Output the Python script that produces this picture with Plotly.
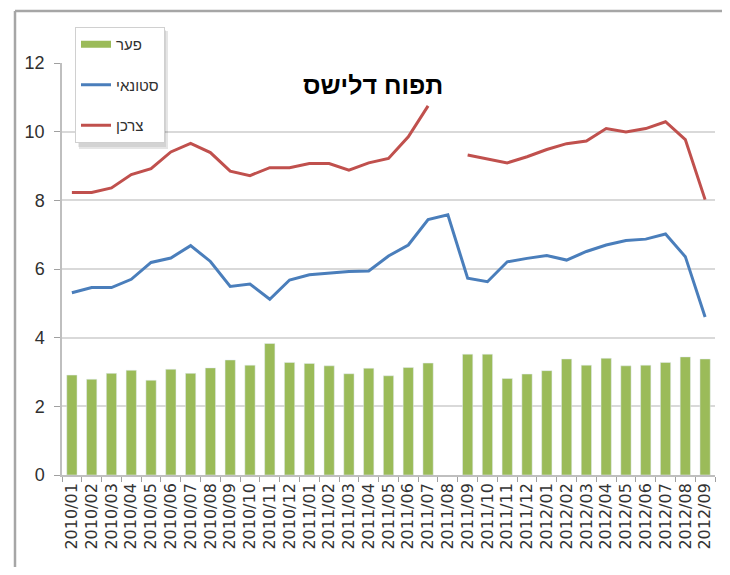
import plotly.graph_objects as go

months = ["2010/01", "2010/02", "2010/03", "2010/04", "2010/05", "2010/06", "2010/07",
          "2010/08", "2010/09", "2010/10", "2010/11", "2010/12", "2011/01", "2011/02",
          "2011/03", "2011/04", "2011/05", "2011/06", "2011/07", "2011/08", "2011/09",
          "2011/10", "2011/11", "2011/12", "2012/01", "2012/02", "2012/03", "2012/04",
          "2012/05", "2012/06", "2012/07", "2012/08", "2012/09"]

gap = [2.91, 2.79, 2.96, 3.05, 2.76, 3.08, 2.96, 3.12, 3.35, 3.20, 3.83, 3.28, 3.25, 3.18,
       2.95, 3.11, 2.89, 3.13, 3.26, None, 3.52, 3.52, 2.81, 2.94, 3.04, 3.38, 3.20, 3.40,
       3.18, 3.20, 3.28, 3.44, 3.38]

wholesale = [5.31, 5.46, 5.46, 5.70, 6.19, 6.32, 6.68, 6.22, 5.49, 5.56, 5.12, 5.68, 5.83,
             5.87, 5.93, 5.94, 6.38, 6.70, 7.44, 7.58, 5.73, 5.63, 6.21, 6.31, 6.39, 6.26,
             6.51, 6.70, 6.83, 6.87, 7.02, 6.36, 4.60]

consumer = [8.23, 8.23, 8.36, 8.75, 8.92, 9.41, 9.66, 9.39, 8.85, 8.72, 8.95, 8.95, 9.07,
            9.07, 8.88, 9.09, 9.22, 9.85, 10.75, None, 9.32, 9.21, 9.09, 9.27, 9.48, 9.65,
            9.73, 10.09, 9.99, 10.09, 10.29, 9.77, 8.02]

y_ticks = [0, 2, 4, 6, 8, 10, 12]
title_text = "תפוח דלישס"
names = ["פער", "סטונאי", "צרכן"]

GREEN = "#9BBB59"
BLUE = "#4A7EBB"
RED = "#C0504D"

fig = go.Figure()
fig.add_trace(go.Bar(x=months, y=gap, marker_color=GREEN, showlegend=False, name=names[0]))
# legend proxy for the bar series (Excel-style thick line symbol)
fig.add_trace(go.Scatter(x=[months[0]], y=[None], mode="lines", name=names[0],
                         line=dict(color=GREEN, width=7), legendgroup="a"))
fig.add_trace(go.Scatter(x=months, y=wholesale, mode="lines", name=names[1],
                         line=dict(color=BLUE, width=3), legendgroup="b"))
fig.add_trace(go.Scatter(x=months, y=consumer, mode="lines", name=names[2],
                         line=dict(color=RED, width=3), legendgroup="c", connectgaps=False))

# page has an 8px body margin: figure spans screen px 8..722 x 8..567
OFF = 8
W, H = 714, 559
# plot area in screen px: x 62..715, y 63..475
L = 62 - OFF
R = OFF + W - 715
T = 63 - OFF
B = OFF + H - 475
pw, ph = W - L - R, H - T - B

def px_x(p):  # screen px -> paper
    return (p - OFF - L) / pw

def px_y(p):
    return (OFF + H - B - p) / ph

# outer frame (top and left edges)
fig.add_shape(type="line", xref="paper", yref="paper", x0=px_x(15), x1=px_x(740),
              y0=px_y(11), y1=px_y(11), line=dict(color="#A6A6A6", width=2.5))
fig.add_shape(type="line", xref="paper", yref="paper", x0=px_x(15), x1=px_x(15),
              y0=px_y(11), y1=px_y(580), line=dict(color="#A6A6A6", width=2.5))
# soft legend shadow
fig.add_shape(type="rect", xref="paper", yref="paper", x0=px_x(79), x1=px_x(168),
              y0=px_y(31), y1=px_y(149), line=dict(width=0), fillcolor="rgba(0,0,0,0.10)",
              layer="above")
fig.add_shape(type="rect", xref="paper", yref="paper", x0=px_x(78), x1=px_x(166),
              y0=px_y(30), y1=px_y(147), line=dict(width=0), fillcolor="rgba(0,0,0,0.08)",
              layer="above")

fig.add_annotation(text=title_text, xref="paper", yref="paper", x=px_x(373), y=px_y(85),
                   showarrow=False, xanchor="center", yanchor="middle",
                   font=dict(family="Liberation Sans, DejaVu Sans", size=25, color="black",
                             weight="bold"))

fig.update_layout(
    width=W, height=H,
    margin=dict(l=L, r=R, t=T, b=B, autoexpand=False),
    paper_bgcolor="white", plot_bgcolor="white",
    bargap=0.48,
    font=dict(family="Liberation Sans, DejaVu Sans, Arial", color="#404040"),
    legend=dict(x=px_x(75), y=px_y(27), xanchor="left", yanchor="top",
                bgcolor="white", bordercolor="#D0D0D0", borderwidth=1,
                font=dict(size=15, color="#303030"),
                traceorder="grouped", tracegroupgap=18, itemwidth=30),
)

fig.update_xaxes(type="category", tickson="boundaries", ticks="outside", ticklen=5,
                 tickcolor="#A0A0A0", showline=True, linecolor="#BFBFBF", linewidth=1.5,
                 showgrid=False, tickangle=-90, automargin=False,
                 tickfont=dict(family="DejaVu Sans", size=16, color="#333333"))
fig.update_yaxes(range=[0, 12], tickvals=y_ticks, ticks="outside", ticklen=6,
                 tickcolor="#A0A0A0", showline=True, linecolor="#BFBFBF", linewidth=1.5,
                 showgrid=True, gridcolor="#D9D9D9", gridwidth=2, zeroline=False,
                 ticklabelstandoff=6, automargin=False,
                 tickfont=dict(family="Liberation Sans, DejaVu Sans", size=18, color="#303030"))

fig.write_html("out.html")
